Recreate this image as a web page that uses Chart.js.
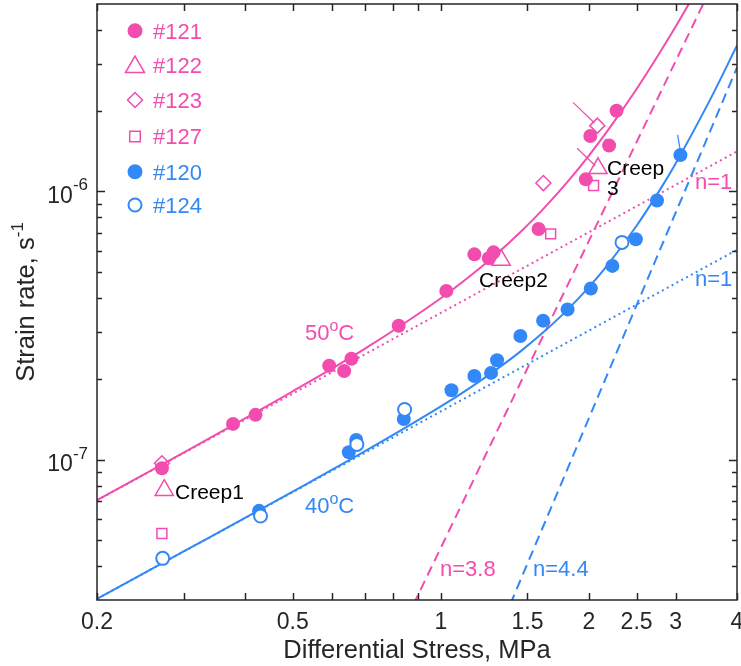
<!DOCTYPE html>
<html>
<head>
<meta charset="utf-8">
<script src="https://cdn.jsdelivr.net/npm/chart.js@4.4.1/dist/chart.umd.min.js"></script>
<style>
  html, body { margin: 0; padding: 0; background: #fff; }
  canvas { display: block; }
</style>
</head>
<body>
<canvas id="chart" width="741" height="666"></canvas>
<script>
const PINK = "#F24DAE";
const BLUE = "#3388F7";
const AXIS = "#262626";
const FONT = '"Liberation Sans", Arial, sans-serif';

// 50 C measurements (MPa, 1/s)
const stress121 = [0.271, 0.378, 0.42, 0.593, 0.636, 0.658, 0.821, 1.026, 1.17, 1.252, 1.28, 1.58, 1.971, 2.013, 2.198, 2.276];
const rate121 = [9.3e-8, 1.36e-7, 1.47e-7, 2.24e-7, 2.14e-7, 2.38e-7, 3.16e-7, 4.26e-7, 5.83e-7, 5.64e-7, 5.93e-7, 7.25e-7, 1.11e-6, 1.61e-6, 1.485e-6, 2.0e-6];
const stress122 = [0.274, 1.326, 2.087];
const rate122 = [7.7e-8, 5.56e-7, 1.22e-6];
const stress123 = [0.271, 1.616, 2.08];
const rate123 = [9.7e-8, 1.075e-6, 1.76e-6];
const stress127 = [0.271, 1.672, 2.044];
const rate127 = [5.31e-8, 6.95e-7, 1.053e-6];

// 40 C measurements
const stress120 = [0.427, 0.65, 0.673, 0.841, 1.051, 1.17, 1.265, 1.301, 1.451, 1.614, 1.81, 2.018, 2.232, 2.491, 2.751, 3.069];
const rate120 = [6.45e-8, 1.066e-7, 1.184e-7, 1.418e-7, 1.816e-7, 2.053e-7, 2.107e-7, 2.349e-7, 2.894e-7, 3.3e-7, 3.634e-7, 4.35e-7, 5.28e-7, 6.64e-7, 9.26e-7, 1.367e-6];
const stress124 = [0.272, 0.43, 0.675, 0.844, 2.335];
const rate124 = [4.29e-8, 6.17e-8, 1.14e-7, 1.54e-7, 6.46e-7];

// fitted curves
const fitStress50 = [0.2, 0.3, 0.5, 0.7, 1.0, 1.15, 1.3, 1.45, 1.6, 1.8, 2.0, 2.2, 2.5, 2.8, 3.0, 3.2];
const fitRate50 = [7.07e-8, 1.064e-7, 1.8e-7, 2.59e-7, 4.0e-7, 4.86e-7, 5.86e-7, 7.05e-7, 8.45e-7, 1.074e-6, 1.361e-6, 1.718e-6, 2.41e-6, 3.34e-6, 4.11e-6, 5.04e-6];
const fitStress40 = [0.2, 0.3, 0.5, 0.7, 1.0, 1.15, 1.3, 1.45, 1.6, 1.8, 2.0, 2.2, 2.5, 2.8, 3.0, 3.5, 4.0];
const fitRate40 = [3.03e-8, 4.55e-8, 7.61e-8, 1.074e-7, 1.58e-7, 1.862e-7, 2.176e-7, 2.53e-7, 2.94e-7, 3.59e-7, 4.4e-7, 5.42e-7, 7.45e-7, 1.027e-6, 1.27e-6, 2.14e-6, 3.5e-6];

// power-law guide lines
const n1Stress = [0.2, 4];
const n1Rate50 = [7.06e-8, 1.41e-6];
const n1Rate40 = [3.03e-8, 6.06e-7];
const n38Stress = [0.88, 3.5];
const n38Rate = [2.89e-8, 5.49e-6];
const n44Stress = [1.385, 4];
const n44Rate = [2.9e-8, 2.9e-6];

// small leader strokes
const leaderStress50 = [1.857, 2.052, null, 1.892, 2.061, null, 2.16, 2.177];
const leaderRate50 = [2.15e-6, 1.8e-6, null, 1.45e-6, 1.247e-6, null, 1.57e-6, 1.494e-6];
const leaderStress40 = [3.03, 3.069];
const leaderRate40 = [1.627e-6, 1.41e-6];

// axes
const xMin = 0.2, xMax = 4, yMin = 3e-8, yMax = 5e-6;
const xTicks = [0.2, 0.3, 0.4, 0.5, 0.6, 0.7, 0.8, 0.9, 1, 1.5, 2, 2.5, 3, 4];
const xLabels = [0.2, 0.5, 1, 1.5, 2, 2.5, 3, 4];
const yMajor = [1e-7, 1e-6];
const yMinor = [4e-8, 5e-8, 6e-8, 7e-8, 8e-8, 9e-8, 2e-7, 3e-7, 4e-7, 5e-7, 6e-7, 7e-7, 8e-7, 9e-7, 2e-6, 3e-6, 4e-6];

function pts(xs, ys) {
  return xs.map((x, i) => ({ x: x, y: ys[i] }));
}

function lineSet(xs, ys, color, dash, order) {
  return {
    data: pts(xs, ys),
    showLine: true,
    borderColor: color,
    borderWidth: 2,
    borderDash: dash,
    pointRadius: 0,
    fill: false,
    spanGaps: false,
    order: order,
  };
}

function markerSet(label, xs, ys, style, radius, color, fillColor, bw, order) {
  return {
    label: label,
    data: pts(xs, ys),
    pointStyle: style,
    pointRadius: radius,
    pointBorderWidth: bw,
    pointBorderColor: color,
    pointBackgroundColor: fillColor,
    borderColor: color,
    backgroundColor: fillColor,
    showLine: false,
    order: order,
  };
}

// rich text with a superscript part: segs = [[text, isSup], ...]
function drawRich(ctx, segs, x, y, size, supSize, raise, align, color) {
  ctx.fillStyle = color;
  ctx.textBaseline = "alphabetic";
  ctx.textAlign = "left";
  let total = 0;
  const widths = segs.map(s => {
    ctx.font = (s[1] ? supSize : size) + "px " + FONT;
    const w = ctx.measureText(s[0]).width;
    total += w;
    return w;
  });
  let cx = x;
  if (align === "center") cx = x - total / 2;
  if (align === "right") cx = x - total;
  segs.forEach((s, i) => {
    ctx.font = (s[1] ? supSize : size) + "px " + FONT;
    ctx.fillText(s[0], cx, s[1] ? y - raise : y);
    cx += widths[i];
  });
}

const frame = {
  id: "frame",
  afterDatasetsDraw(chart) {
    const ctx = chart.ctx;
    const a = chart.chartArea;
    const xs = chart.scales.x, ys = chart.scales.y;
    ctx.save();

    // annotations
    drawRich(ctx, [["50", false], ["o", true], ["C", false]], 305, 340, 22, 16, 9, "left", PINK);
    drawRich(ctx, [["40", false], ["o", true], ["C", false]], 305, 513, 22, 16, 9, "left", BLUE);
    ctx.font = "21px " + FONT;
    ctx.fillStyle = "#000";
    ctx.textAlign = "left";
    ctx.textBaseline = "alphabetic";
    ctx.fillText("Creep1", 175, 499);
    ctx.fillText("Creep2", 479, 286.5);
    ctx.fillText("Creep", 607, 174.5);
    ctx.fillText("3", 607, 195);
    ctx.font = "22px " + FONT;
    ctx.fillStyle = PINK;
    ctx.fillText("n=1", 695, 189);
    ctx.fillText("n=3.8", 440, 576);
    ctx.fillStyle = BLUE;
    ctx.fillText("n=1", 695, 286);
    ctx.fillText("n=4.4", 533, 576);

    // box and inward ticks
    ctx.strokeStyle = AXIS;
    ctx.lineWidth = 1.5;
    ctx.strokeRect(a.left, a.top, a.right - a.left, a.bottom - a.top);
    ctx.beginPath();
    xTicks.forEach(v => {
      const px = Math.round(xs.getPixelForValue(v)) + 0.5;
      ctx.moveTo(px, a.bottom); ctx.lineTo(px, a.bottom - 7);
      ctx.moveTo(px, a.top); ctx.lineTo(px, a.top + 7);
    });
    yMajor.concat(yMinor).forEach(v => {
      const py = Math.round(ys.getPixelForValue(v)) + 0.5;
      const len = yMajor.includes(v) ? 8 : 5;
      ctx.moveTo(a.left, py); ctx.lineTo(a.left + len, py);
      ctx.moveTo(a.right, py); ctx.lineTo(a.right - len, py);
    });
    ctx.stroke();

    // tick labels
    ctx.fillStyle = AXIS;
    ctx.font = "23px " + FONT;
    ctx.textAlign = "center";
    xLabels.forEach(v => {
      ctx.fillText(String(v), xs.getPixelForValue(v), 629);
    });
    yMajor.forEach(v => {
      const py = ys.getPixelForValue(v);
      const exp = Math.round(Math.log10(v));
      drawRich(ctx, [["10", false], [String(exp), true]], 88, py + 11.5, 23, 17, 12.5, "right", AXIS);
    });

    // axis titles
    ctx.fillStyle = AXIS;
    ctx.font = "25.5px " + FONT;
    ctx.textAlign = "center";
    ctx.fillText("Differential Stress, MPa", (a.left + a.right) / 2, 658);
    ctx.save();
    ctx.translate(33.5, (a.top + a.bottom) / 2);
    ctx.rotate(-Math.PI / 2);
    drawRich(ctx, [["Strain rate, s", false], ["-1", true]], 0, 0, 25.5, 17, 11, "center", AXIS);
    ctx.restore();

    // legend
    const legend = [
      ["#121", "circle", 7.5, PINK, PINK, 0, 30.7],
      ["#122", "triangle", 11, PINK, "rgba(0,0,0,0)", 1.5, 65],
      ["#123", "rectRot", 7.5, PINK, "rgba(0,0,0,0)", 1.5, 100],
      ["#127", "rect", 7.5, PINK, "rgba(0,0,0,0)", 1.5, 136.5],
      ["#120", "circle", 7.5, BLUE, BLUE, 0, 171.7],
      ["#124", "circle", 6.5, BLUE, "#fff", 2, 205],
    ];
    legend.forEach(l => {
      ctx.fillStyle = l[4];
      ctx.strokeStyle = l[3];
      ctx.lineWidth = l[5];
      Chart.helpers.drawPoint(ctx, { pointStyle: l[1], radius: l[2], borderWidth: l[5], rotation: 0 }, 135, l[6] + (l[1] === "triangle" ? 2 : 0));
      ctx.fillStyle = l[3];
      ctx.font = "22px " + FONT;
      ctx.textAlign = "left";
      ctx.fillText(l[0], 153, l[6] + 7.9);
    });
    ctx.restore();
  },
};

new Chart(document.getElementById("chart"), {
  type: "scatter",
  data: {
    datasets: [
      markerSet("#124", stress124, rate124, "circle", 6.5, BLUE, "#fff", 2, 1),
      markerSet("#120", stress120, rate120, "circle", 7, BLUE, BLUE, 0, 2),
      markerSet("#127", stress127, rate127, "rect", 7, PINK, "rgba(0,0,0,0)", 1.5, 3),
      markerSet("#123", stress123, rate123, "rectRot", 7.5, PINK, "rgba(0,0,0,0)", 1.5, 4),
      markerSet("#122", stress122, rate122, "triangle", 10.5, PINK, "rgba(0,0,0,0)", 1.5, 5),
      markerSet("#121", stress121, rate121, "circle", 7, PINK, PINK, 0, 6),
      Object.assign(lineSet(fitStress50, fitRate50, PINK, [], 10), { cubicInterpolationMode: "monotone" }),
      Object.assign(lineSet(fitStress40, fitRate40, BLUE, [], 11), { cubicInterpolationMode: "monotone" }),
      lineSet(n1Stress, n1Rate50, PINK, [2, 3.5], 12),
      lineSet(n1Stress, n1Rate40, BLUE, [2, 3.5], 13),
      lineSet(n38Stress, n38Rate, PINK, [10, 6], 14),
      lineSet(n44Stress, n44Rate, BLUE, [10, 6], 15),
      Object.assign(lineSet(leaderStress50, leaderRate50, PINK, [], 16), { borderWidth: 1.2 }),
      Object.assign(lineSet(leaderStress40, leaderRate40, BLUE, [], 17), { borderWidth: 1.2 }),
    ],
  },
  options: {
    responsive: false,
    animation: false,
    devicePixelRatio: 1,
    events: [],
    layout: { autoPadding: false, padding: { left: 97, right: 4, top: 4, bottom: 66 } },
    plugins: {
      legend: { display: false },
      tooltip: { enabled: false },
    },
    scales: {
      x: { type: "logarithmic", min: xMin, max: xMax, display: false },
      y: { type: "logarithmic", min: yMin, max: yMax, display: false },
    },
  },
  plugins: [frame],
});
</script>
</body>
</html>
